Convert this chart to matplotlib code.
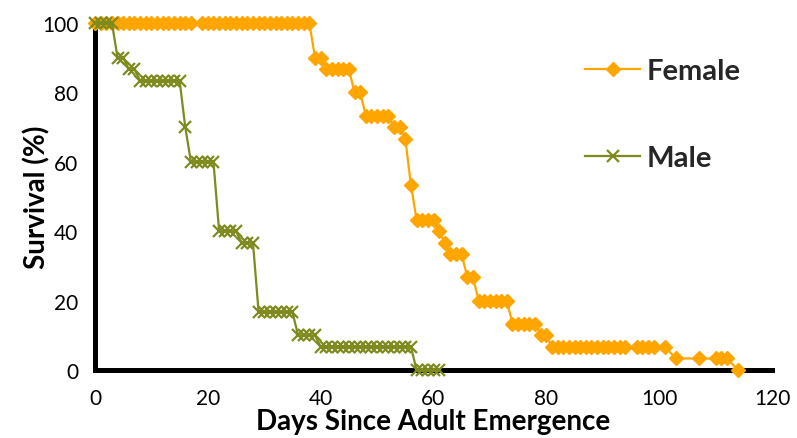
import matplotlib
matplotlib.use("Agg")
import matplotlib.pyplot as plt

# ---- data ----
female_days = [0, 1, 2, 3, 4, 5, 6, 7, 8, 9, 10, 11, 12, 13, 14, 15, 16, 17,
               19, 20, 21, 22, 23, 24, 25, 26, 27, 28, 29, 30, 31, 32, 33, 34, 35, 36, 37, 38,
               39, 40, 41, 42, 43, 44, 45, 46, 47, 48, 49, 50, 51, 52, 53, 54, 55, 56,
               57, 58, 59, 60, 61, 62, 63, 64, 65, 66, 67, 68, 69, 70, 71, 72, 73,
               74, 75, 76, 77, 78, 79, 80, 81, 82, 83, 84, 85, 86, 87, 88, 89, 90, 91, 92, 93, 94,
               96, 97, 98, 99, 101, 103, 107, 110, 111, 112, 114]
female_surv = [100, 100, 100, 100, 100, 100, 100, 100, 100, 100, 100, 100, 100, 100, 100, 100, 100, 100,
               100, 100, 100, 100, 100, 100, 100, 100, 100, 100, 100, 100, 100, 100, 100, 100, 100, 100, 100, 100,
               90, 90, 86.67, 86.67, 86.67, 86.67, 86.67, 80, 80, 73.33, 73.33, 73.33, 73.33, 73.33, 70, 70, 66.67, 53.33,
               43.33, 43.33, 43.33, 43.33, 40, 36.67, 33.33, 33.33, 33.33, 26.67, 26.67, 20, 20, 20, 20, 20, 20,
               13.33, 13.33, 13.33, 13.33, 13.33, 10, 10, 6.67, 6.67, 6.67, 6.67, 6.67, 6.67, 6.67, 6.67, 6.67, 6.67, 6.67, 6.67, 6.67, 6.67,
               6.67, 6.67, 6.67, 6.67, 6.67, 3.33, 3.33, 3.33, 3.33, 3.33, 0]

male_days = [0, 1, 2, 3, 4, 5, 6, 7, 8, 9, 10, 11, 12, 13, 14, 15, 16,
             17, 18, 19, 20, 21, 22, 23, 24, 25, 26, 27, 28,
             29, 30, 31, 32, 33, 34, 35, 36, 37, 38, 39,
             40, 41, 42, 43, 44, 45, 46, 47, 48, 49, 50, 51, 52, 53, 54, 55, 56,
             57, 58, 59, 60, 61]
male_surv = [100, 100, 100, 100, 90, 90, 86.67, 86.67, 83.33, 83.33, 83.33, 83.33, 83.33, 83.33, 83.33, 83.33, 70,
             60, 60, 60, 60, 60, 40, 40, 40, 40, 36.67, 36.67, 36.67,
             16.67, 16.67, 16.67, 16.67, 16.67, 16.67, 16.67, 10, 10, 10, 10,
             6.67, 6.67, 6.67, 6.67, 6.67, 6.67, 6.67, 6.67, 6.67, 6.67, 6.67, 6.67, 6.67, 6.67, 6.67, 6.67, 6.67,
             0, 0, 0, 0, 0]

x_ticks = [0, 20, 40, 60, 80, 100, 120]
y_ticks = [0, 20, 40, 60, 80, 100]

FEMALE_C = "#FFA500"
MALE_C = "#7E8A1E"
FONT = "Lato"

fig = plt.figure(figsize=(7.97, 4.39), dpi=100)
ax = fig.add_axes([95 / 797, 1 - 371 / 439, (772 - 95) / 797, (371 - 24) / 439])

ax.plot(female_days, female_surv, color=FEMALE_C, lw=1.6, marker="D", ms=7.5,
        mec=FEMALE_C, mfc=FEMALE_C, label="Female", clip_on=False, zorder=5)
ax.plot(male_days, male_surv, color=MALE_C, lw=1.6, marker="x", ms=9, mew=1.6,
        mec=MALE_C, label="Male", clip_on=False, zorder=6)

ax.set_xlim(0, 120)
ax.set_ylim(0, 100)
ax.set_xticks(x_ticks)
ax.set_yticks(y_ticks)
ax.tick_params(axis="x", length=0, labelsize=15, pad=13)
ax.tick_params(axis="y", length=0, labelsize=15, pad=12)
for lab in ax.get_xticklabels() + ax.get_yticklabels():
    lab.set_family(FONT)

for s in ["top", "right"]:
    ax.spines[s].set_visible(False)
for s in ["left", "bottom"]:
    ax.spines[s].set_linewidth(3.6)
    ax.spines[s].set_color("black")
    ax.spines[s].set_zorder(3)

ax.set_xlabel("Days Since Adult Emergence", fontsize=20, fontweight="bold",
              family=FONT, labelpad=0)
ax.set_ylabel("Survival (%)", fontsize=20, fontweight="bold", family=FONT)
ax.yaxis.set_label_coords((50 - 95) / 677, 0.5)

leg = ax.legend(loc="upper left", bbox_to_anchor=(0.685, 0.975), frameon=False,
                handlelength=1.9, handletextpad=0.2, labelspacing=2.1,
                prop={"family": FONT, "weight": "bold", "size": 21})
for t in leg.get_texts():
    t.set_color("#262626")

fig.savefig("out.png", dpi=100)
